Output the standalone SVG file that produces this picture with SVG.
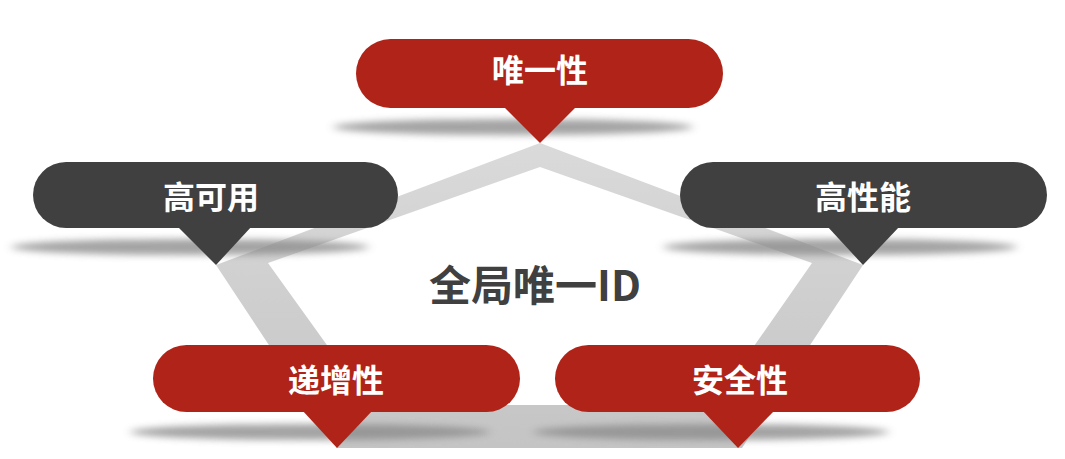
<svg xmlns="http://www.w3.org/2000/svg" width="1065" height="459" viewBox="0 0 1065 459">
  <defs>
    <linearGradient id="bandGrad" x1="0" y1="0" x2="0" y2="1">
      <stop offset="0" stop-color="#dadada"/>
      <stop offset="1" stop-color="#c4c4c4"/>
    </linearGradient>
    <filter id="blur" x="-10%" y="-150%" width="120%" height="400%">
      <feGaussianBlur stdDeviation="5 3.5"/>
    </filter>
  </defs>
  <style>
    .shadow { fill: #8c8c8c; opacity: 0.8; filter: url(#blur); }
    .red { fill: #AF2318; }
    .dark { fill: #404040; }
    .label { font-family: "Noto Sans CJK SC", "Noto Sans", sans-serif; font-weight: 700; font-size: 32px; fill: #ffffff; text-anchor: middle; }
    .center { font-family: "Noto Sans CJK SC", "Noto Sans", sans-serif; font-weight: 700; font-size: 42px; fill: #404040; text-anchor: middle; }
  </style>
  <rect width="1065" height="459" fill="#ffffff"/>

  <g id="connectors">
    <path fill="url(#bandGrad)" fill-rule="evenodd"
          d="M540,143 L863,265 L742,448 L337,448 L216,265 Z M540,167 L268,263 L370,405 L713,405 L812,263 Z"/>
  </g>

  <g id="shadows">
    <ellipse class="shadow" cx="513" cy="127" rx="180" ry="8"/>
    <ellipse class="shadow" cx="190" cy="247" rx="179" ry="8"/>
    <ellipse class="shadow" cx="840" cy="247" rx="177" ry="8"/>
    <ellipse class="shadow" cx="310" cy="432" rx="180" ry="8"/>
    <ellipse class="shadow" cx="711" cy="432" rx="178" ry="8"/>
  </g>

  <g id="node-unique">
    <rect class="red" x="356" y="39" width="367" height="69" rx="34.5"/>
    <polygon class="red" points="503,106 577,106 540,143"/>
    <text class="label" x="540" y="82">唯一性</text>
  </g>

  <g id="node-availability">
    <rect class="dark" x="33" y="162" width="365" height="66" rx="33"/>
    <polygon class="dark" points="177,226 252,226 216,265"/>
    <text class="label" x="211" y="209">高可用</text>
  </g>

  <g id="node-performance">
    <rect class="dark" x="680" y="162" width="367" height="66" rx="33"/>
    <polygon class="dark" points="827,226 900,226 863,265"/>
    <text class="label" x="863" y="209">高性能</text>
  </g>

  <g id="node-increasing">
    <rect class="red" x="153" y="345" width="367" height="67" rx="33.5"/>
    <polygon class="red" points="302,410 373,410 337,448"/>
    <text class="label" x="336" y="392">递增性</text>
  </g>

  <g id="node-security">
    <rect class="red" x="555" y="345" width="365" height="67" rx="33.5"/>
    <polygon class="red" points="702,410 775,410 738,448"/>
    <text class="label" x="740" y="392">安全性</text>
  </g>

  <g id="center-label">
    <text class="center" x="535" y="301">全局唯一ID</text>
  </g>
</svg>
